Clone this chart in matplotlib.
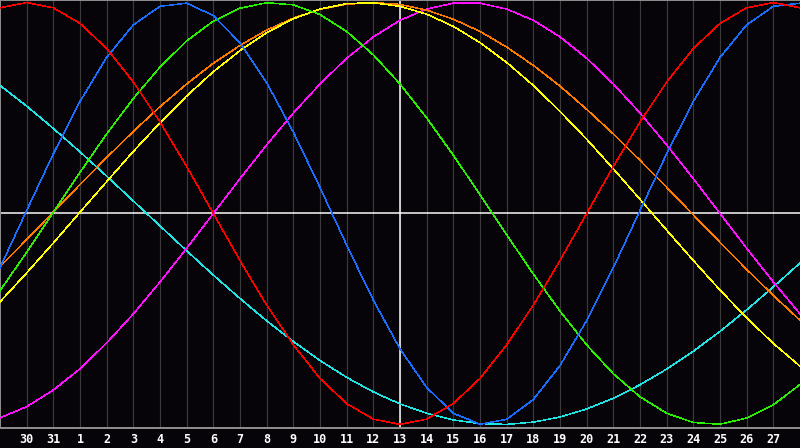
import matplotlib
matplotlib.use("Agg")
import matplotlib.pyplot as plt

# day labels under the grid lines (grid line 1..29)
day_labels = [30, 31] + list(range(1, 28))
day_index = list(range(31))   # one sample per grid column, 0..30
today = 15                    # white marker line ("13")

# biorhythm curves, value per day
red = [0.975, 1.000, 0.975, 0.901, 0.782, 0.623, 0.434, 0.223, 0.000, -0.223, -0.434,
       -0.623, -0.782, -0.901, -0.975, -1.000, -0.975, -0.901, -0.782, -0.623, -0.434,
       -0.223, 0.000, 0.223, 0.434, 0.623, 0.782, 0.901, 0.975, 1.000, 0.975]
blue = [-0.257, 0.014, 0.283, 0.531, 0.740, 0.894, 0.982, 0.997, 0.938, 0.809, 0.620,
        0.386, 0.123, -0.150, -0.411, -0.642, -0.825, -0.947, -0.999, -0.976, -0.882,
        -0.721, -0.508, -0.257, 0.014, 0.283, 0.531, 0.740, 0.894, 0.982, 0.997]
green = [-0.366, -0.184, 0.006, 0.195, 0.377, 0.545, 0.694, 0.818, 0.912, 0.973, 0.999,
         0.989, 0.943, 0.863, 0.752, 0.614, 0.453, 0.276, 0.089, -0.101, -0.287,
         -0.463, -0.623, -0.760, -0.869, -0.947, -0.991, -0.999, -0.970, -0.907, -0.811]
magenta = [-0.969, -0.916, -0.837, -0.736, -0.614, -0.476, -0.325, -0.165, 0.000, 0.165,
           0.325, 0.476, 0.614, 0.736, 0.837, 0.916, 0.969, 0.997, 0.997, 0.969, 0.916,
           0.837, 0.736, 0.614, 0.476, 0.325, 0.165, 0.000, -0.165, -0.325, -0.476]
yellow = [-0.419, -0.282, -0.140, 0.006, 0.151, 0.294, 0.430, 0.557, 0.672, 0.772, 0.857,
          0.923, 0.969, 0.995, 0.999, 0.982, 0.945, 0.887, 0.810, 0.716, 0.607, 0.484,
          0.352, 0.212, 0.067, -0.079, -0.223, -0.363, -0.495, -0.616, -0.724]
orange = [-0.252, -0.124, 0.007, 0.137, 0.265, 0.389, 0.506, 0.614, 0.712, 0.797, 0.869,
          0.926, 0.968, 0.992, 1.000, 0.991, 0.964, 0.921, 0.863, 0.789, 0.702, 0.604,
          0.494, 0.377, 0.252, 0.124, -0.007, -0.137, -0.265, -0.389, -0.506]
cyan = [0.607, 0.509, 0.403, 0.292, 0.177, 0.059, -0.059, -0.177, -0.292, -0.403, -0.509,
        -0.607, -0.697, -0.777, -0.846, -0.903, -0.947, -0.979, -0.996, -1.000, -0.989,
        -0.965, -0.927, -0.876, -0.812, -0.738, -0.653, -0.559, -0.457, -0.348, -0.235]

series = [
    (cyan, "#20e4e4"),
    (magenta, "#ff10ff"),
    (orange, "#ff7800"),
    (yellow, "#ffff00"),
    (green, "#28f000"),
    (blue, "#1a6eff"),
    (red, "#ff0000"),
]

bg = "#060409"
px = 72 / 100  # one pixel in points

fig = plt.figure(figsize=(8, 4.48), dpi=100, facecolor=bg)
ax = fig.add_axes([0, 20 / 448, 1, 428 / 448], facecolor=bg)

ax.set_xlim(0, 30)
ax.set_ylim(-1.017, 1.012)

# white zero line and today marker
ax.axhline(0, color="white", lw=1.5 * px, zorder=2)
ax.axvline(today, color="white", lw=1.5 * px, zorder=2)

for vals, col in series:
    ax.plot(day_index, vals, color=col, lw=0.5 * px, antialiased=False, zorder=3)

ax.set_xticks(day_index[1:30])
ax.set_xticklabels([str(d) for d in day_labels], color="white",
                   fontfamily="DejaVu Sans Mono", fontweight="bold", fontsize=8.5)
ax.set_yticks([])
ax.tick_params(axis="x", length=0, pad=3.5)
ax.grid(axis="x", color="#3a3a3a", lw=1.2 * px, zorder=1)

for side in ["top", "left", "bottom"]:
    ax.spines[side].set_color("#8c8c8c")
    ax.spines[side].set_linewidth(2 * px)
ax.spines["right"].set_visible(False)

fig.savefig("out.png", dpi=100, facecolor=bg)
